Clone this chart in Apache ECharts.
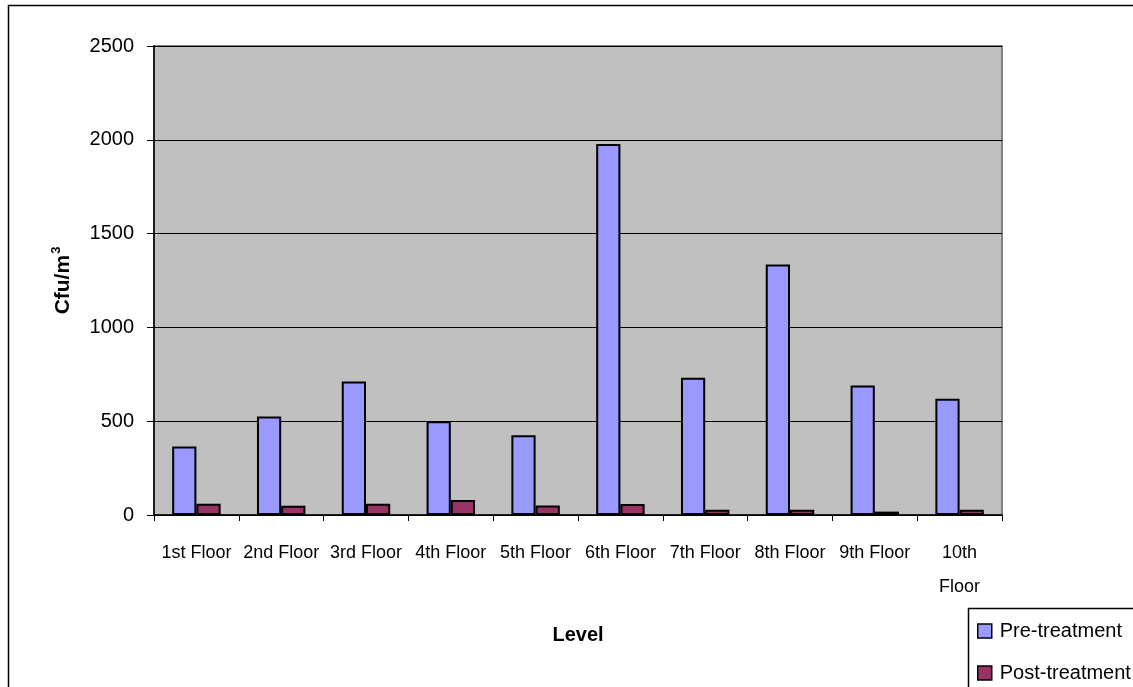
<!DOCTYPE html>
<html>
<head>
<meta charset="utf-8">
<script src="https://cdn.jsdelivr.net/npm/echarts@6/dist/echarts.min.js"></script>
<style>
  html, body { margin: 0; padding: 0; background: #fff; }
  #chart { width: 1133px; height: 687px; }
</style>
</head>
<body>
<div id="chart"></div>
<script>
// Airborne colony counts per floor, before and after treatment
const floors = ['1st Floor', '2nd Floor', '3rd Floor', '4th Floor', '5th Floor',
                '6th Floor', '7th Floor', '8th Floor', '9th Floor', '10th Floor'];
const preTreatment  = [365, 525, 712, 500, 425, 1977, 732, 1335, 690, 620];
const postTreatment = [60, 49, 60, 80, 50, 58, 28, 28, 18, 28];
const yTicks = { min: 0, max: 2500, step: 500 };

const sans = '"Liberation Sans", Arial, sans-serif';

const chart = echarts.init(document.getElementById('chart'), null, { renderer: 'canvas' });

chart.setOption({
  animation: false,
  backgroundColor: '#ffffff',
  graphic: [
    {
      // outer chart frame (runs off the right and bottom edges)
      type: 'rect',
      shape: { x: 8.5, y: 5.5, width: 1200, height: 800 },
      style: { fill: 'none', stroke: '#000', lineWidth: 1.5 },
      silent: true
    },
    {
      // legend frame
      type: 'rect',
      shape: { x: 968.5, y: 608.5, width: 300, height: 200 },
      style: { fill: '#fff', stroke: '#000', lineWidth: 1.5 },
      silent: true,
      z: 0
    }
  ],
  grid: {
    left: 154, right: 131, top: 46, bottom: 172,
    show: true,
    backgroundColor: '#C0C0C0',
    borderColor: '#808080',
    borderWidth: 2
  },
  legend: {
    orient: 'vertical',
    left: 977, top: 621,
    width: 160, height: 120,
    padding: 0,
    itemWidth: 14, itemHeight: 14,
    itemGap: 22,
    icon: 'rect',
    z: 5,
    textStyle: { fontFamily: sans, fontSize: 20, color: '#000', lineHeight: 14, padding: [0, 0, 0, 3] },
    data: [
      { name: 'Pre-treatment', itemStyle: { borderColor: '#000', borderWidth: 1.5 } },
      { name: 'Post-treatment', itemStyle: { borderColor: '#000', borderWidth: 1.5 } }
    ]
  },
  xAxis: {
    type: 'category',
    data: floors,
    name: 'Level',
    nameLocation: 'middle',
    nameGap: 110,
    nameTextStyle: { fontFamily: sans, fontWeight: 'bold', fontSize: 20, color: '#000' },
    axisLine: { lineStyle: { color: '#000', width: 1.5 } },
    axisTick: { show: true, length: 6, lineStyle: { color: '#000' } },
    axisLabel: {
      interval: 0,
      margin: 21,
      fontFamily: sans, fontSize: 18, color: '#000',
      lineHeight: 34,
      formatter: v => v.length > 9 ? v.replace(' ', '\n') : v
    }
  },
  yAxis: {
    type: 'value',
    min: yTicks.min, max: yTicks.max, interval: yTicks.step,
    name: '{a|Cfu/m}{b|3}',
    nameLocation: 'middle',
    nameRotate: 90,
    nameGap: 80,
    nameTextStyle: {
      rich: {
        a: { fontFamily: sans, fontWeight: 'bold', fontSize: 21, color: '#000', verticalAlign: 'bottom', lineHeight: 24 },
        b: { fontFamily: sans, fontWeight: 'bold', fontSize: 13, color: '#000', verticalAlign: 'top', lineHeight: 24, padding: [0, 0, 8, 1] }
      }
    },
    axisLine: { show: true, lineStyle: { color: '#000', width: 1.5 } },
    axisTick: { show: true, length: 7, lineStyle: { color: '#000' } },
    axisLabel: { margin: 20, fontFamily: sans, fontSize: 20, color: '#000', formatter: v => String(v) },
    splitLine: { show: true, lineStyle: { color: '#000', width: 1 } }
  },
  series: [
    {
      name: 'Pre-treatment',
      type: 'bar',
      data: preTreatment,
      barGap: '0%',
      barCategoryGap: '42.86%',
      itemStyle: { color: '#9999FF', borderColor: '#000', borderWidth: 2 }
    },
    {
      name: 'Post-treatment',
      type: 'bar',
      data: postTreatment,
      itemStyle: { color: '#993366', borderColor: '#000', borderWidth: 2 }
    }
  ]
});
</script>
</body>
</html>
